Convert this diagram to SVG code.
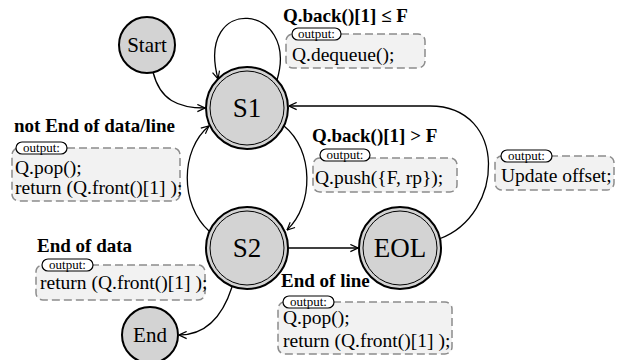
<svg xmlns="http://www.w3.org/2000/svg" width="629" height="360" viewBox="0 0 629 360">
<defs>
<marker id="arr" viewBox="0 0 10 10" refX="9.5" refY="5" markerWidth="9" markerHeight="9" markerUnits="userSpaceOnUse" orient="auto">
<path d="M1,1 L9.5,5 L1,9" fill="none" stroke="#000" stroke-width="1.3"/>
</marker>
</defs>
<style>
.st{fill:#d3d3d3;stroke:#000;stroke-width:2}
.in{fill:none;stroke:#000;stroke-width:1}
.sl{font-family:"Liberation Serif",serif;font-size:27px;text-anchor:middle;fill:#000}
.ss{font-family:"Liberation Serif",serif;font-size:21px;text-anchor:middle;fill:#000}
.e{fill:none;stroke:#000;stroke-width:1.3;marker-end:url(#arr)}
.lb{font-family:"Liberation Serif",serif;font-size:19px;font-weight:bold;fill:#000}
.bx{fill:#f2f2f2;stroke:#8c8c8c;stroke-width:1.5;stroke-dasharray:8 4}
.pl{fill:#fff;stroke:#000;stroke-width:1.2}
.pt{font-family:"Liberation Serif",serif;font-size:13px;fill:#000}
.bt{font-family:"Liberation Serif",serif;font-size:19.5px;fill:#000}
</style>
<g id="edges">
<path class="e" d="M277,80 C300,3 195,-7 218,79"/>
<path class="e" d="M153,72 C160,100 178,108 205,108"/>
<path class="e" d="M284,126 C314,150 314,205 287,230"/>
<path class="e" d="M209,231 C180,205 180,150 209,126"/>
<path class="e" d="M288,248 L358,248"/>
<path class="e" d="M439,239 C505,215 508,106 430,106 L289,106"/>
<path class="e" d="M232,287 C222,318 205,335 179,335"/>
</g>
<g id="Start"><circle class="st" cx="147" cy="45" r="28"/><text class="ss" x="147" y="52">Start</text></g>
<g id="S1"><circle class="st" cx="247" cy="108" r="41"/><circle class="in" cx="247" cy="108" r="37"/><text class="sl" x="247" y="117">S1</text></g>
<g id="S2"><circle class="st" cx="247" cy="248" r="41"/><circle class="in" cx="247" cy="248" r="37"/><text class="sl" x="247" y="257">S2</text></g>
<g id="EOL"><circle class="st" cx="400" cy="248" r="41"/><circle class="in" cx="400" cy="248" r="37"/><text class="sl" x="400" y="257">EOL</text></g>
<g id="End"><circle class="st" cx="150" cy="335" r="28"/><text class="ss" x="150" y="342">End</text></g>
<g id="lbl-loop">
<text class="lb" x="283" y="22">Q.back()[1] ≤ F</text>
<rect class="bx" x="286" y="34" width="139" height="34" rx="7"/>
<rect class="pl" x="292" y="28" width="49" height="12" rx="6"/>
<text class="pt" x="316.5" y="37.5" text-anchor="middle">output:</text>
<text class="bt" x="292" y="61">Q.dequeue();</text>
</g>
<g id="lbl-s2s1">
<text class="lb" x="14" y="132">not End of data/line</text>
<rect class="bx" x="12" y="148" width="168" height="53" rx="7"/>
<rect class="pl" x="16" y="142" width="51" height="12" rx="6"/>
<text class="pt" x="41.5" y="151.5" text-anchor="middle">output:</text>
<text class="bt" x="15" y="174">Q.pop();</text>
<text class="bt" x="15" y="194">return (Q.front()[1] );</text>
</g>
<g id="lbl-s1s2">
<text class="lb" x="312" y="142">Q.back()[1] &gt; F</text>
<rect class="bx" x="313" y="158" width="144" height="34" rx="7"/>
<rect class="pl" x="320" y="149" width="50" height="12" rx="6"/>
<text class="pt" x="345" y="158.5" text-anchor="middle">output:</text>
<text class="bt" x="315" y="184">Q.push({F, rp});</text>
</g>
<g id="lbl-eol">
<rect class="bx" x="495" y="156" width="119" height="34" rx="7"/>
<rect class="pl" x="501" y="150" width="51" height="12" rx="6"/>
<text class="pt" x="526.5" y="159.5" text-anchor="middle">output:</text>
<text class="bt" x="501" y="182">Update offset;</text>
</g>
<g id="lbl-end">
<text class="lb" x="37" y="252">End of data</text>
<rect class="bx" x="36" y="265" width="169" height="35" rx="7"/>
<rect class="pl" x="42" y="259" width="51" height="12" rx="6"/>
<text class="pt" x="67.5" y="268.5" text-anchor="middle">output:</text>
<text class="bt" x="40" y="289">return (Q.front()[1] );</text>
</g>
<g id="lbl-line">
<text class="lb" x="281" y="287">End of line</text>
<rect class="bx" x="278" y="302" width="174" height="52" rx="7"/>
<rect class="pl" x="283" y="296" width="51" height="12" rx="6"/>
<text class="pt" x="308.5" y="305.5" text-anchor="middle">output:</text>
<text class="bt" x="283" y="324">Q.pop();</text>
<text class="bt" x="283" y="347">return (Q.front()[1] );</text>
</g>
</svg>
